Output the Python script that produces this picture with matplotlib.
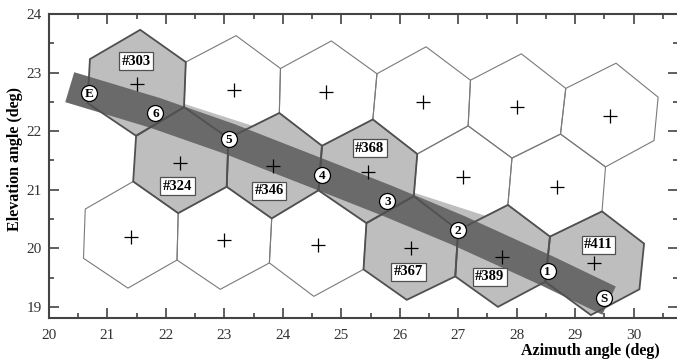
import numpy as np
import matplotlib
matplotlib.use('Agg')
import matplotlib.pyplot as plt
from matplotlib.patches import Polygon
from matplotlib.ticker import MultipleLocator

plt.rcParams['font.family'] = ['Liberation Serif', 'DejaVu Serif']

# beam footprints: vertices top, upper-right, lower-right, bottom, lower-left, upper-left
hex_vx = [
    [21.56, 22.34, 22.31, 21.49, 20.66, 20.70],
    [23.20, 23.96, 23.94, 23.07, 22.31, 22.34],
    [24.83, 25.61, 25.54, 24.67, 23.94, 23.96],
    [26.45, 27.21, 27.17, 26.30, 25.54, 25.61],
    [28.08, 28.84, 28.75, 27.92, 27.17, 27.21],
    [29.70, 30.42, 30.35, 29.52, 28.75, 28.84],
    [22.31, 23.07, 23.04, 22.21, 21.44, 21.49],
    [23.94, 24.67, 24.61, 23.81, 23.04, 23.07],
    [25.54, 26.30, 26.24, 25.43, 24.61, 24.67],
    [27.17, 27.92, 27.85, 27.00, 26.24, 26.30],
    [28.75, 29.52, 29.46, 28.57, 27.85, 27.92],
    [21.44, 22.21, 22.19, 21.35, 20.59, 20.62],
    [23.04, 23.81, 23.77, 22.93, 22.19, 22.21],
    [24.61, 25.43, 25.38, 24.53, 23.77, 23.81],
    [26.24, 27.00, 26.95, 26.12, 25.38, 25.43],
    [27.85, 28.57, 28.49, 27.68, 26.95, 27.00],
    [29.46, 30.18, 30.10, 29.27, 28.49, 28.57],
]
hex_vy = [
    [23.73, 23.18, 22.41, 21.92, 22.48, 23.23],
    [23.63, 23.07, 22.31, 21.88, 22.41, 23.18],
    [23.54, 22.98, 22.20, 21.75, 22.31, 23.07],
    [23.44, 22.87, 22.09, 21.61, 22.20, 22.98],
    [23.32, 22.73, 21.95, 21.54, 22.09, 22.87],
    [23.16, 22.58, 21.84, 21.39, 21.95, 22.73],
    [22.41, 21.88, 21.05, 20.60, 21.14, 21.92],
    [22.31, 21.75, 20.99, 20.51, 21.05, 21.88],
    [22.20, 21.61, 20.89, 20.43, 20.99, 21.75],
    [22.09, 21.54, 20.74, 20.31, 20.89, 21.61],
    [21.95, 21.39, 20.63, 20.20, 20.74, 21.54],
    [21.14, 20.60, 19.80, 19.32, 19.83, 20.67],
    [21.05, 20.51, 19.75, 19.30, 19.80, 20.60],
    [20.99, 20.43, 19.64, 19.18, 19.75, 20.51],
    [20.89, 20.31, 19.52, 19.12, 19.64, 20.43],
    [20.74, 20.20, 19.43, 19.00, 19.52, 20.31],
    [20.63, 20.08, 19.30, 18.86, 19.43, 20.20],
]
hex_cx = [21.50, 23.16, 24.74, 26.40, 28.00, 29.59,
          22.24, 23.84, 25.46, 27.09, 28.69,
          21.40, 23.00, 24.60, 26.19, 27.75, 29.32]
hex_cy = [22.80, 22.70, 22.66, 22.50, 22.41, 22.26,
          21.45, 21.41, 21.31, 21.21, 21.05,
          20.20, 20.14, 20.06, 20.00, 19.85, 19.75]
hex_shaded = [1, 0, 0, 0, 0, 0,
              1, 1, 1, 0, 0,
              0, 0, 0, 1, 1, 1]

beam_ids = ['#303', '#324', '#346', '#368', '#367', '#389', '#411']
beam_lx = [21.49, 22.20, 23.77, 25.49, 26.15, 27.54, 29.40]
beam_ly = [23.19, 21.06, 20.98, 21.71, 19.60, 19.51, 20.06]

# ground track crossing points
track_names = ['E', '6', '5', '4', '3', '2', '1', 'S']
track_az = [20.69, 21.82, 23.08, 24.67, 25.79, 26.99, 28.53, 29.49]
track_el = [22.65, 22.31, 21.87, 21.25, 20.81, 20.31, 19.61, 19.15]

# upper edge of the light swath
swath_az = [21.00, 22.30, 24.64, 26.24, 27.45, 28.40]
swath_el = [22.95, 22.47, 21.72, 20.95, 20.56, 20.15]

fig = plt.figure(figsize=(6.77, 3.62), dpi=100)
ax = fig.add_axes([49 / 677, 44 / 362, 629 / 677, 304 / 362])

for vx, vy, sh in zip(hex_vx, hex_vy, hex_shaded):
    ax.add_patch(Polygon(np.c_[vx, vy], closed=True, fc='#bebebe' if sh else 'white',
                         ec='none', zorder=1))

# light swath
ta, te = np.array(track_az), np.array(track_el)
sw = np.r_[np.c_[swath_az, swath_el], np.c_[ta[1:7], te[1:7]][::-1]]
ax.add_patch(Polygon(sw, closed=True, fc='#bebebe', ec='none', zorder=2))

# dark band along the track
d0 = np.array([ta[0] - ta[1], te[0] - te[1]]); d0 /= np.hypot(*d0)
d1 = np.array([ta[-1] - ta[-2], te[-1] - te[-2]]); d1 /= np.hypot(*d1)
bx = np.r_[ta[0] + 0.35 * d0[0], ta, ta[-1] + 0.1 * d1[0]]
by = np.r_[te[0] + 0.35 * d0[1], te, te[-1] + 0.1 * d1[1]]
ax.plot(bx, by, color='#6a6a6a', lw=22.5, solid_capstyle='butt',
        solid_joinstyle='round', zorder=3)

# outlines: plain beams first, shaded beams on top
for vx, vy, sh in sorted(zip(hex_vx, hex_vy, hex_shaded), key=lambda t: t[2]):
    ax.add_patch(Polygon(np.c_[vx, vy], closed=True, fc='none',
                         ec='#505050' if sh else '#7a7a7a',
                         lw=1.3 if sh else 0.8, zorder=4))

ax.plot(hex_cx, hex_cy, '+', color='black', ms=10, mew=0.9, zorder=5)

for lab, x, y in zip(beam_ids, beam_lx, beam_ly):
    ax.text(x, y, lab, ha='center', va='center', fontsize=10.5, fontweight='bold', zorder=6,
            bbox=dict(boxstyle='square,pad=0.17', fc='white', ec='#505050', lw=0.9))

ax.plot(track_az, track_el, 'o', ms=11.5, mfc='white', mec='black', mew=0.9, zorder=7)
for lab, x, y in zip(track_names, track_az, track_el):
    ax.text(x, y - 0.02, lab, ha='center', va='center', fontsize=9.5, fontweight='bold', zorder=8)

ax.set_xlim(20, 30.76)
ax.set_ylim(18.81, 24)
ax.xaxis.set_major_locator(MultipleLocator(1))
ax.xaxis.set_minor_locator(MultipleLocator(0.5))
ax.yaxis.set_major_locator(MultipleLocator(1))
ax.yaxis.set_minor_locator(MultipleLocator(0.5))
ax.tick_params(which='both', direction='in', top=True, right=True, width=1.1, colors='#333333',
               labelsize=11)
ax.tick_params(axis='x', pad=8)
ax.tick_params(axis='y', pad=5)
ax.tick_params(which='major', length=7)
ax.tick_params(which='minor', length=3.5)
for s in ax.spines.values():
    s.set_color('#444444')
    s.set_linewidth(1.5)

fig.text(660 / 677, 1 - 351 / 362, 'Azimuth angle (deg)', ha='right', va='center',
         fontsize=11.5, fontweight='bold')
fig.text(15 / 677, 1 - 159 / 362, 'Elevation angle (deg)', ha='center', va='center',
         rotation=90, fontsize=11.5, fontweight='bold')

fig.savefig('out.png', dpi=100)
